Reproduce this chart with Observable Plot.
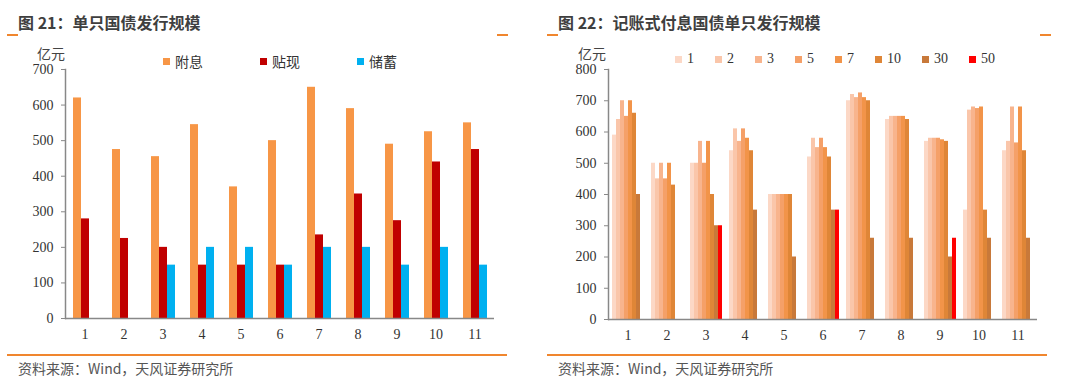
<!DOCTYPE html>
<html>
<head>
<meta charset="utf-8">
<script src="https://cdn.jsdelivr.net/npm/d3@7"></script>
<script src="https://cdn.jsdelivr.net/npm/@observablehq/plot@0.6"></script>
<style>
  html, body { margin: 0; padding: 0; background: #fff; }
  body { width: 1080px; height: 388px; position: relative; overflow: hidden; font-family: "Noto Sans CJK SC", "Noto Sans", sans-serif; }
  .panel { position: absolute; top: 0; width: 540px; height: 388px; }
  .title { position: absolute; top: 10px; left: 18px; font-size: 16px; font-weight: bold; color: #3f3f3f; white-space: nowrap; }
  .mark { position: absolute; top: 34px; width: 11px; height: 2px; background: #F0862E; }
  .rule { position: absolute; top: 354px; left: 7px; width: 500px; height: 2px; background: #F0862E; }
  .source { position: absolute; top: 358px; left: 18px; font-size: 14px; color: #555; white-space: nowrap; }
  .unit { position: absolute; top: 46px; font-size: 14px; line-height: 14px; color: #444; }
  .legend { position: absolute; top: 51px; display: flex; align-items: center; white-space: nowrap; }
  .legend .item { display: flex; align-items: center; }
  .legend .sw { width: 7px; height: 7px; margin-right: 5px; }
  .chart { position: absolute; top: 45px; left: 0; }
</style>
</head>
<body>
<div class="panel" id="p1" style="left:0">
  <div class="title">图 21：单只国债发行规模</div>
  <div class="mark" style="left:7px"></div>
  <div class="mark" style="left:497px"></div>
  <div class="unit" style="left:37px">亿元</div>
  <div class="legend" id="leg1" style="left:163px"></div>
  <div class="chart" id="c1"></div>
  <div class="rule"></div>
  <div class="source">资料来源：Wind，天风证券研究所</div>
</div>
<div class="panel" id="p2" style="left:540px">
  <div class="title">图 22：记账式付息国债单只发行规模</div>
  <div class="mark" style="left:7px"></div>
  <div class="mark" style="left:500px"></div>
  <div class="unit" style="left:38px">亿元</div>
  <div class="legend" id="leg2" style="left:135px"></div>
  <div class="chart" id="c2"></div>
  <div class="rule"></div>
  <div class="source">资料来源：Wind，天风证券研究所</div>
</div>
<script>
// ---------- data ----------
const groups = ["1","2","3","4","5","6","7","8","9","10","11"];

// Figure 21
const leftSeries = ["附息","贴现","储蓄"];
const leftColors = ["#F79646","#C00000","#00B0F0"];
const fuxi    = [620,475,455,545,370,500,650,590,490,525,550];
const tiexian = [280,225,200,150,150,150,235,350,275,440,475];
const chuxu   = [0,0,150,200,200,150,200,200,150,200,150];
const leftTicks = [0,100,200,300,400,500,600,700];

// Figure 22
const rightSeries = ["1","2","3","5","7","10","30","50"];
const rightColors = ["#FCD8C6","#FAC6AA","#F8B48D","#F5A068","#F29449","#DF8637","#C8793A","#FF0000"];
const y1  = [590,500,500,540,400,520,700,640,570,350,540];
const y2  = [640,450,500,610,400,580,720,650,580,670,570];
const y3  = [700,500,570,570,400,550,710,650,580,680,680];
const y5  = [650,450,500,610,400,580,725,650,580,675,565];
const y7  = [700,500,570,580,400,550,710,650,575,680,680];
const y10 = [660,430,400,540,400,520,700,640,570,350,540];
const y30 = [400,0,300,350,200,350,260,260,200,260,260];
const y50 = [0,0,300,0,0,350,0,0,260,0,0];
const rightTicks = [0,100,200,300,400,500,600,700,800];

// ---------- tables ----------
const leftValues = [fuxi, tiexian, chuxu];
const leftData = [];
groups.forEach((g, i) => leftSeries.forEach((s, j) => leftData.push({group: g, series: s, value: leftValues[j][i]})));

const rightValues = [y1, y2, y3, y5, y7, y10, y30, y50];
const rightData = [];
groups.forEach((g, i) => rightSeries.forEach((s, j) => rightData.push({group: g, series: s, value: rightValues[j][i]})));

// ---------- legends ----------
function legend(el, names, colors, font, gap) {
  const box = document.getElementById(el);
  names.forEach((n, i) => {
    const it = document.createElement("div");
    it.className = "item";
    it.style.marginRight = gap + "px";
    const sw = document.createElement("div");
    sw.className = "sw";
    sw.style.background = colors[i];
    const t = document.createElement("span");
    t.textContent = n;
    t.style.fontFamily = font;
    t.style.fontSize = "14px";
    t.style.color = "#333";
    it.appendChild(sw); it.appendChild(t);
    box.appendChild(it);
  });
}
legend("leg1", leftSeries, leftColors, "'Noto Sans CJK SC', sans-serif", 57);
legend("leg2", rightSeries, rightColors, "'Liberation Serif', serif", 21);

// ---------- charts ----------
function chart(data, series, colors, ticks, ymax, mL, mR, mB, po) {
  return Plot.plot({
    width: 540,
    height: 305,
    marginTop: 24,
    marginBottom: mB,
    marginLeft: mL,
    marginRight: mR,
    style: {fontFamily: "'Liberation Serif', serif", fontSize: "14px", color: "#333", background: "transparent"},
    fx: {domain: groups, padding: 0, label: null},
    x: {domain: series, paddingInner: 0, paddingOuter: po, axis: null},
    y: {domain: [0, ymax], label: null},
    color: {domain: series, range: colors},
    marks: [
      Plot.barY(data, {fx: "group", x: "series", y: "value", fill: "series"}),
      Plot.axisY({ticks: ticks, tickSize: 4, tickPadding: 8, label: null, stroke: "#888", fill: "#333"}),
      Plot.axisFx({anchor: "bottom", tickSize: 0, tickPadding: 11, label: null, fill: "#333"}),
      Plot.frame({anchor: "left", facetAnchor: "left", stroke: "#888", strokeWidth: 1.5}),
      Plot.ruleY([0], {stroke: "#888", strokeWidth: 1.5})
    ]
  });
}
document.getElementById("c1").appendChild(chart(leftData, leftSeries, leftColors, leftTicks, 700, 62, 43, 32, 0.74));
document.getElementById("c2").appendChild(chart(rightData, rightSeries, rightColors, rightTicks, 800, 63, 39, 31, 0.75));
</script>
</body>
</html>
